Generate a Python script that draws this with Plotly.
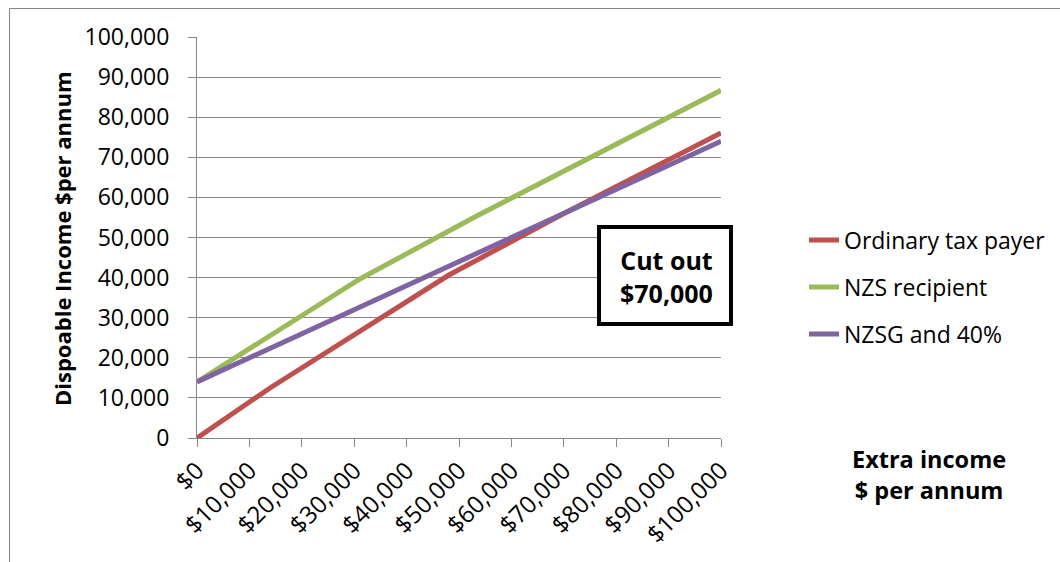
import plotly.graph_objects as go

# ---- data ----
ordinary_x = [0, 14000, 48000, 70000, 100000]
ordinary_y = [0, 12530, 40580, 55980, 76080]

nzs_x = [0, 31000, 53000, 100000]
nzs_y = [14000, 39600, 55100, 86700]

nzsg_x = [0, 100000]
nzsg_y = [14000, 74000]

series_names = ["Ordinary tax payer", "NZS recipient", "NZSG and 40%"]
series_colors = ["#C0504D", "#9BBB59", "#8064A2"]

x_tick_vals = [0, 10000, 20000, 30000, 40000, 50000, 60000, 70000, 80000, 90000, 100000]
x_tick_text = ["$0", "$10,000", "$20,000", "$30,000", "$40,000", "$50,000",
               "$60,000", "$70,000", "$80,000", "$90,000", "$100,000"]
y_tick_vals = [0, 10000, 20000, 30000, 40000, 50000, 60000, 70000, 80000, 90000, 100000]
y_tick_text = ["0", "10,000", "20,000", "30,000", "40,000", "50,000",
               "60,000", "70,000", "80,000", "90,000", "100,000"]

FONT = "Open Sans"
W, H = 1060, 562
L, R, T, B = 197, 721, 37, 438   # plot area in pixels
pw, ph = R - L, B - T


def px(xp):
    return (xp - L) / pw


def py(yp):
    return (B - yp) / ph


fig = go.Figure()
legends = ["legend", "legend2", "legend3"]
for xs, ys, name, color, lg in zip([ordinary_x, nzs_x, nzsg_x],
                                   [ordinary_y, nzs_y, nzsg_y],
                                   series_names, series_colors, legends):
    fig.add_trace(go.Scatter(x=xs, y=ys, mode="lines", name=name,
                             line=dict(color=color, width=5),
                             cliponaxis=False, legend=lg))

grid = "#868686"
fig.update_layout(
    width=W, height=H, autosize=False,
    margin=dict(l=L, r=W - R, t=T, b=H - B, pad=0, autoexpand=False),
    paper_bgcolor="white", plot_bgcolor="white",
    font=dict(family=FONT, size=23, color="black"),
    showlegend=True,
    xaxis=dict(range=[0, 100000], tickvals=x_tick_vals, ticktext=x_tick_text,
               tickangle=-45, showgrid=False, zeroline=False, automargin=False,
               showline=True, linecolor=grid, linewidth=1,
               ticks="outside", ticklen=8, tickcolor=grid, tickwidth=1,
               tickfont=dict(family=FONT, size=24)),
    yaxis=dict(range=[0, 100000], tickvals=y_tick_vals, ticktext=y_tick_text,
               showgrid=True, gridcolor=grid, gridwidth=1, zeroline=False,
               automargin=False,
               showline=True, linecolor=grid, linewidth=1,
               ticks="outside", ticklen=8, tickcolor=grid, tickwidth=1,
               ticklabelstandoff=14,
               tickfont=dict(family=FONT, size=23)),
)

leg_common = dict(font=dict(family=FONT, size=23), bgcolor="rgba(0,0,0,0)",
                  xanchor="left", yanchor="middle", borderwidth=0)
leg_y = [240, 287, 334]
for lg, yy in zip(legends, leg_y):
    fig.update_layout({lg: dict(x=px(804), y=py(yy), **leg_common)})

# chart-area border
fig.add_shape(type="rect", xref="paper", yref="paper",
              x0=px(9.5), x1=px(1200), y0=py(700), y1=py(8.5),
              line=dict(color=grid, width=1), fillcolor="rgba(0,0,0,0)", layer="below")

# "Cut out" box
fig.add_shape(type="rect", xref="paper", yref="paper",
              x0=px(599), x1=px(731), y0=py(324), y1=py(227),
              line=dict(color="black", width=4), fillcolor="white", layer="above")
fig.add_annotation(xref="paper", yref="paper", x=px(666), y=py(276),
                   text="<b>Cut out<br>$70,000</b>", showarrow=False,
                   font=dict(family=FONT, size=25, color="black"),
                   align="center", xanchor="center", yanchor="middle")

# x-axis title
fig.add_annotation(xref="paper", yref="paper", x=px(929), y=py(474),
                   text="<b>Extra income<br>$ per annum</b>", showarrow=False,
                   font=dict(family=FONT, size=23.5, color="black"),
                   align="center", xanchor="center", yanchor="middle")

# y-axis title
fig.add_annotation(xref="paper", yref="paper", x=px(62), y=py(239),
                   text="<b>Dispoable Income $per annum</b>", showarrow=False,
                   textangle=-90,
                   font=dict(family=FONT, size=22, color="black"),
                   xanchor="center", yanchor="middle")

fig.write_html("out.html")
